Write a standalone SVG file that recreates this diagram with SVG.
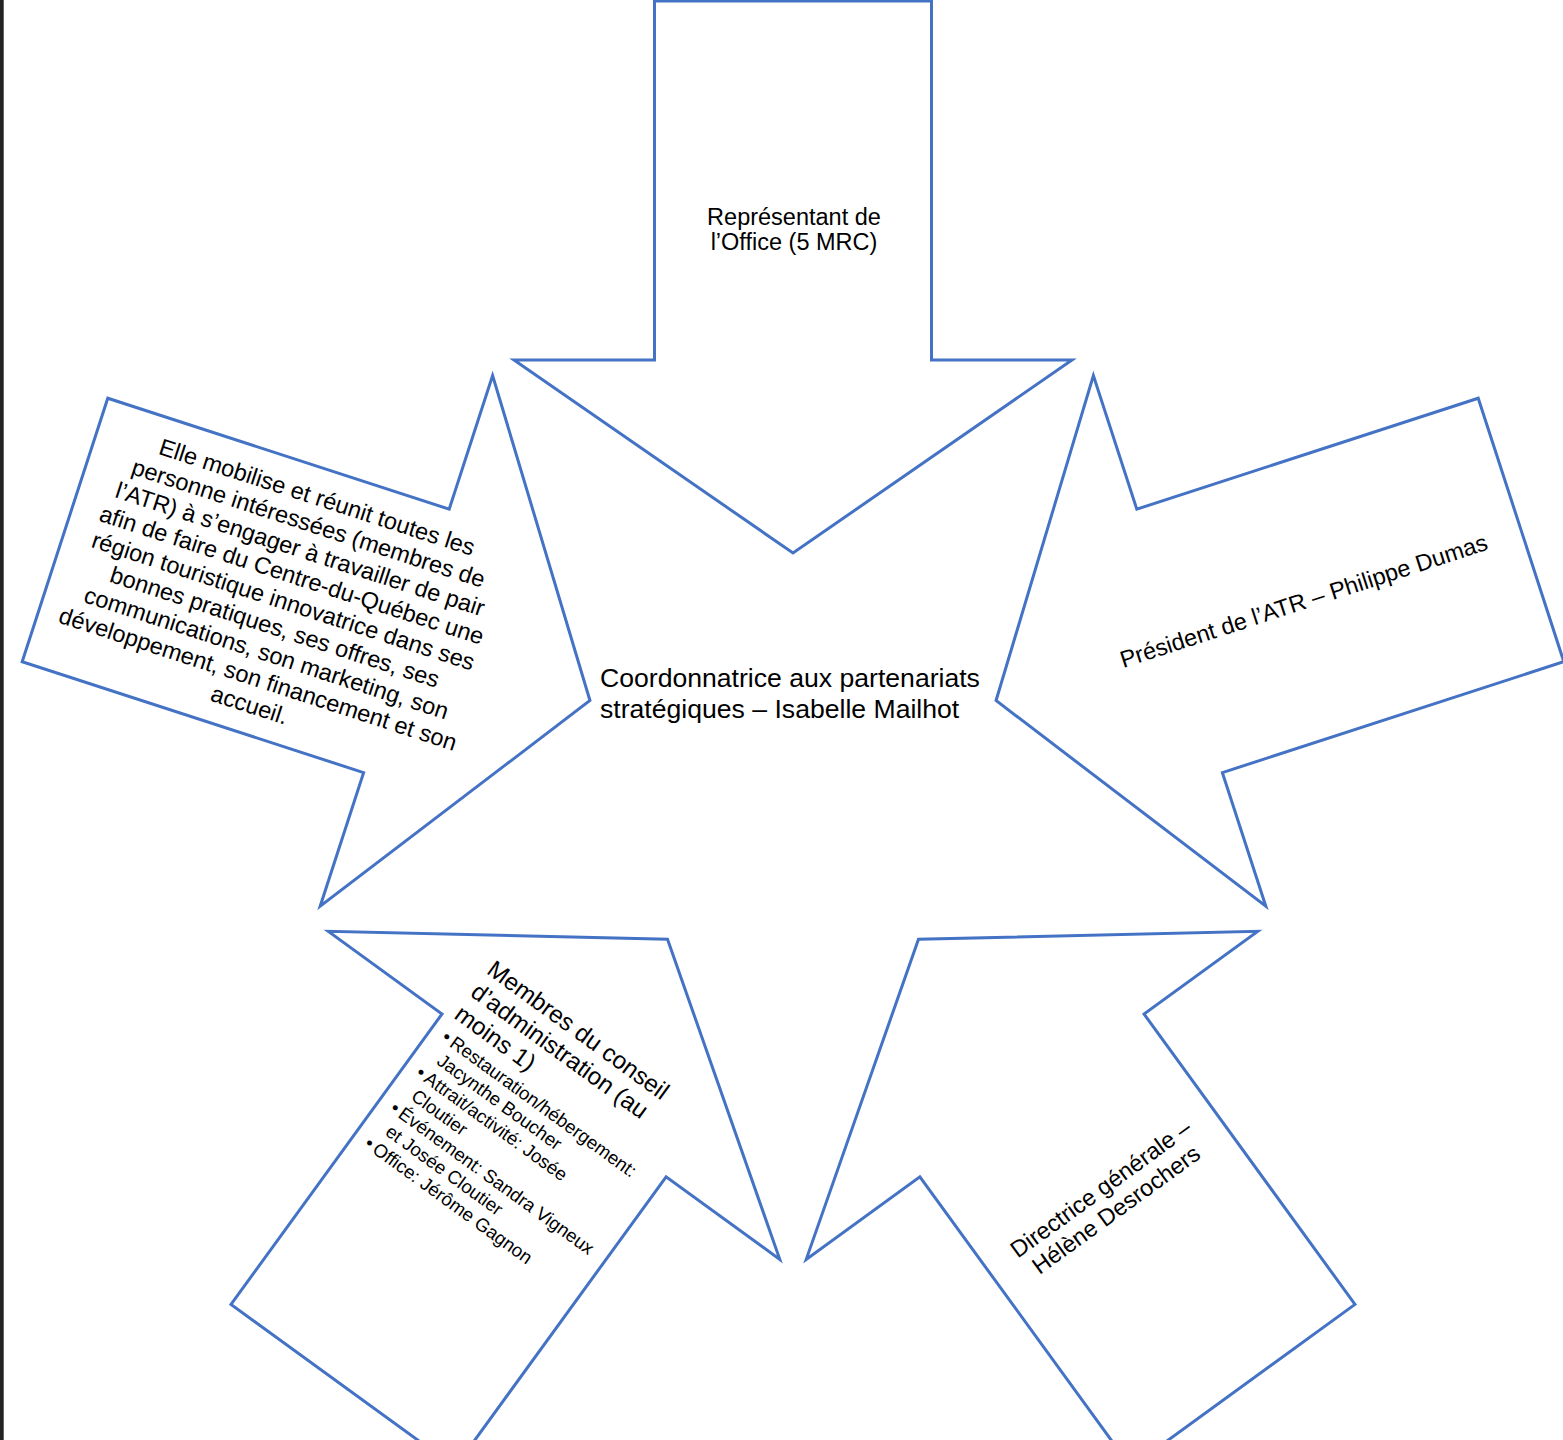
<svg xmlns="http://www.w3.org/2000/svg" xmlns:xlink="http://www.w3.org/1999/xlink" width="1563" height="1440" viewBox="0 0 1563 1440">
<style>
.arrow{fill:#ffffff;stroke:#4472C4;stroke-width:3;stroke-linejoin:miter}
.t{font-family:"Liberation Sans",Arial,Helvetica,sans-serif;fill:#000000;font-size:23.5px}
.c{text-anchor:middle}
.h{font-size:24.3px}
.b{font-size:18.6px}
.ctr{font-size:26.6px}
</style>
<defs>
<polygon id="arrowShape" points="-138.5,-765.5 138.5,-765.5 138.5,-406.5 279,-406.5 0,-213.5 -279,-406.5 -138.5,-406.5"/>
</defs>
<rect x="0" y="0" width="1563" height="1440" fill="#ffffff"/>
<rect x="0" y="0" width="3.7" height="1440" fill="#232323"/>
<g id="connectors"></g>
<g id="node-top">
<use xlink:href="#arrowShape" href="#arrowShape" class="arrow" transform="translate(793,766.5)"/>
<text class="t c" x="794" y="224.5">Représentant de</text>
<text class="t c" x="794" y="250">l’Office (5 MRC)</text>
</g>
<g id="node-left">
<use xlink:href="#arrowShape" href="#arrowShape" class="arrow" transform="translate(793,766.5) rotate(-72)"/>
<g transform="translate(283,602) rotate(18)">
<text class="t c" x="0" y="-102.2">Elle mobilise et réunit toutes les</text>
<text class="t c" x="0" y="-74.9">personne intéressées (membres de</text>
<text class="t c" x="0" y="-47.6">l’ATR) à s’engager à travailler de pair</text>
<text class="t c" x="0" y="-20.3">afin de faire du Centre-du-Québec une</text>
<text class="t c" x="0" y="7">région touristique innovatrice dans ses</text>
<text class="t c" x="0" y="34.3">bonnes pratiques, ses offres, ses</text>
<text class="t c" x="0" y="61.6">communications, son marketing, son</text>
<text class="t c" x="0" y="88.9">développement, son financement et son</text>
<text class="t c" x="0" y="116.2">accueil.</text>
</g>
</g>
<g id="node-right">
<use xlink:href="#arrowShape" href="#arrowShape" class="arrow" transform="translate(793,766.5) rotate(72)"/>
<g transform="translate(1304,602) rotate(-18)">
<text class="t c" x="0" y="7">Président de l’ATR – Philippe Dumas</text>
</g>
</g>
<g id="node-bottom-left">
<use xlink:href="#arrowShape" href="#arrowShape" class="arrow" transform="translate(793,766.5) rotate(-144)"/>
<g transform="translate(487,974) rotate(36)">
<text class="t h" x="-2" y="0">Membres du conseil</text>
<text class="t h" x="-2" y="27.6">d’administration (au</text>
<text class="t h" x="-2" y="55.2">moins 1)</text>
<text class="t b" x="1" y="80.6">•</text>
<text class="t b" x="11" y="80.6">Restauration/hébergement:</text>
<text class="t b" x="11" y="102.5">Jacynthe Boucher</text>
<text class="t b" x="1" y="124.4">•</text>
<text class="t b" x="11" y="124.4">Attrait/activité: Josée</text>
<text class="t b" x="11" y="146.3">Cloutier</text>
<text class="t b" x="1" y="168.2">•</text>
<text class="t b" x="11" y="168.2">Événement: Sandra Vigneux</text>
<text class="t b" x="11" y="190.1">et Josée Cloutier</text>
<text class="t b" x="1" y="212">•</text>
<text class="t b" x="11" y="212">Office: Jérôme Gagnon</text>
</g>
</g>
<g id="node-bottom-right">
<use xlink:href="#arrowShape" href="#arrowShape" class="arrow" transform="translate(793,766.5) rotate(144)"/>
<g transform="translate(1109,1200) rotate(-36)">
<text class="t c" x="0" y="-6">Directrice générale –</text>
<text class="t c" x="0" y="20">Hélène Desrochers</text>
</g>
</g>
<g id="node-center">
<text class="t ctr" x="600" y="687">Coordonnatrice aux partenariats</text>
<text class="t ctr" x="600" y="718">stratégiques – Isabelle Mailhot</text>
</g>
</svg>
